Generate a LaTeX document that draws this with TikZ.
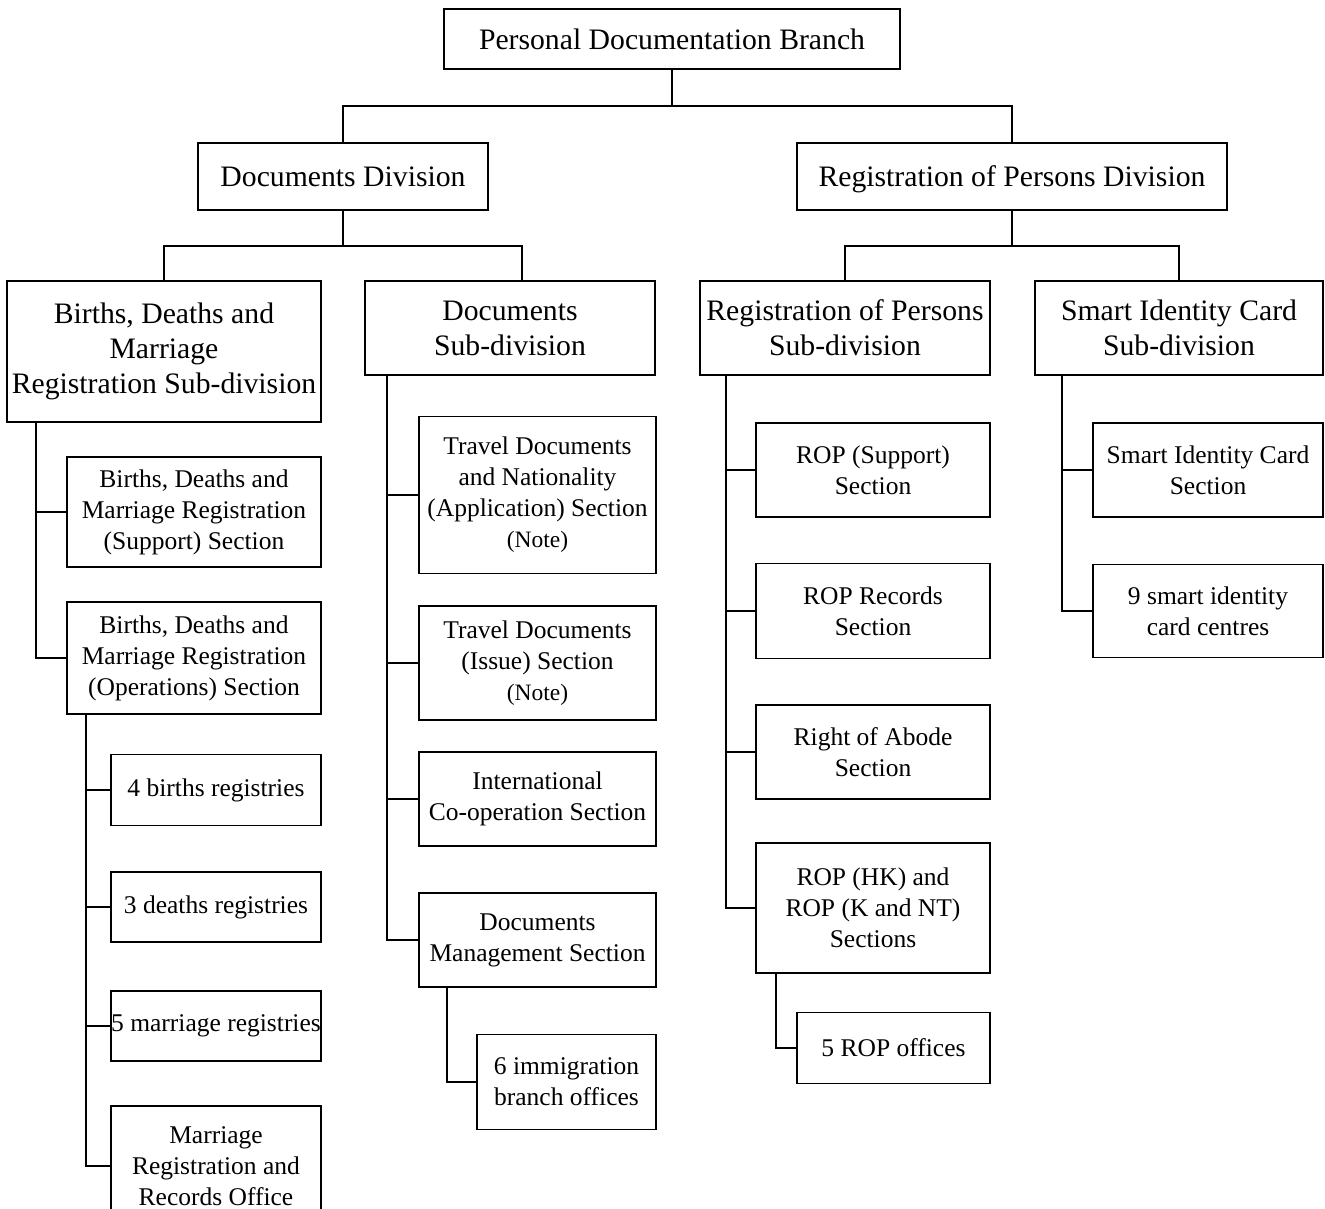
\documentclass[tikz,border=0pt]{standalone}
\usepackage{fontspec}
\setmainfont{Liberation Serif}
\usetikzlibrary{positioning,calc}

\begin{document}
\begin{tikzpicture}[
    x=1pt, y=-1pt,
    head/.style={rectangle, draw=black, line width=1.8pt, inner sep=0pt,
                align=center, font=\fontsize{29.7}{35}\selectfont},
    unit/.style={rectangle, draw=black, line width=1.8pt, inner sep=0pt,
                align=center, font=\fontsize{25.5}{31}\selectfont},
    link/.style={line width=1.9pt},
]
\useasboundingbox (0,0) rectangle (1325,1209);
\clip (0,0) rectangle (1325,1209);

% --- Branch and divisions ---
\node[head, minimum width=456pt, minimum height=60pt] (pdb) at (672,39) {Personal Documentation Branch};
\node[head, minimum width=290pt, minimum height=67pt] (dd) at (343,176.5) {Documents Division};
\node[head, minimum width=430pt, minimum height=67pt, text depth=0pt] (rpd) at (1012,176.5) {Registration of Persons Division};

% --- Sub-divisions ---
\node[head, minimum width=314pt, minimum height=141pt] (bdm) at (164,351.5) {Births, Deaths and\\Marriage\\Registration Sub-division};
\node[head, minimum width=290pt, minimum height=94pt] (dsd) at (510,328) {Documents\\Sub-division};
\node[head, minimum width=290pt, minimum height=94pt] (rsd) at (845,328) {Registration of Persons\\Sub-division};
\node[head, minimum width=288pt, minimum height=94pt] (ssd) at (1179,328) {Smart Identity Card\\Sub-division};

% --- Births, Deaths and Marriage sections ---
\node[unit, minimum width=254pt, minimum height=110pt] (bsup) at (194,512) {Births, Deaths and\\Marriage Registration\\(Support) Section};
\node[unit, minimum width=254pt, minimum height=112pt] (bops) at (194,658) {Births, Deaths and\\Marriage Registration\\(Operations) Section};
\node[unit, minimum width=210pt, minimum height=71pt] (bir) at (216,790) {4 births registries};
\node[unit, minimum width=210pt, minimum height=70pt] (dea) at (216,907) {3 deaths registries};
\node[unit, minimum width=210pt, minimum height=70pt] (mar) at (216,1026) {5 marriage registries};
\node[unit, minimum width=210pt, minimum height=120pt] (mro) at (216,1166) {Marriage\\Registration and\\Records Office};

% --- Documents sections ---
\node[unit, minimum width=237pt, minimum height=157pt] (tdn) at (537.5,495) {Travel Documents\\and Nationality\\(Application) Section\\{\fontsize{23.5}{28}\selectfont(Note)}};
\node[unit, minimum width=237pt, minimum height=114pt] (tdi) at (537.5,663) {Travel Documents\\(Issue) Section\\{\fontsize{23.5}{28}\selectfont(Note)}};
\node[unit, minimum width=237pt, minimum height=94pt] (ics) at (537.5,799) {International\\Co-operation Section};
\node[unit, minimum width=237pt, minimum height=94pt] (dms) at (537.5,940) {Documents\\Management Section};
\node[unit, minimum width=179pt, minimum height=95pt] (imm) at (566.5,1082) {6 immigration\\branch offices};

% --- Registration of Persons sections ---
\node[unit, minimum width=234pt, minimum height=94pt] (rsup) at (873,470) {ROP (Support)\\Section};
\node[unit, minimum width=234pt, minimum height=95pt] (rrec) at (873,611) {ROP Records\\Section};
\node[unit, minimum width=234pt, minimum height=94pt] (roa) at (873,752) {Right of Abode\\Section};
\node[unit, minimum width=234pt, minimum height=130pt] (rhk) at (873,908) {ROP (HK) and\\ROP (K and NT)\\Sections};
\node[unit, minimum width=193pt, minimum height=71pt] (rof) at (893.5,1048) {5 ROP offices};

% --- Smart Identity Card sections ---
\node[unit, minimum width=230pt, minimum height=94pt] (ssec) at (1208,470) {Smart Identity Card\\Section};
\node[unit, minimum width=230pt, minimum height=93pt] (scc) at (1208,611) {9 smart identity\\card centres};

% --- Upper connectors ---
\draw[link] (pdb.south) -- ++(0,36) -| (dd.north);
\draw[link] (pdb.south) -- ++(0,36) -| (rpd.north);
\draw[link] (dd.south) -- ++(0,35) -| (bdm.north);
\draw[link] (dd.south) -- ++(0,35) -| ([xshift=12pt]dsd.north);
\draw[link] (rpd.south) -- ++(0,35) -| (rsd.north);
\draw[link] (rpd.south) -- ++(0,35) -| (ssd.north);

% --- Side trunks ---
\draw[link] ([xshift=30pt]bdm.south west) |- (bsup.west);
\draw[link] ([xshift=30pt]bdm.south west) |- (bops.west);
\foreach \n in {bir,dea,mar,mro}
  \draw[link] ([xshift=20pt]bops.south west) |- (\n.west);
\foreach \n in {tdn,tdi,ics,dms}
  \draw[link] ([xshift=23pt]dsd.south west) |- (\n.west);
\draw[link] ([xshift=29pt]dms.south west) |- (imm.west);
\foreach \n in {rsup,rrec,roa,rhk}
  \draw[link] ([xshift=27pt]rsd.south west) |- (\n.west);
\draw[link] ([xshift=21pt]rhk.south west) |- (rof.west);
\foreach \n in {ssec,scc}
  \draw[link] ([xshift=28pt]ssd.south west) |- (\n.west);

\end{tikzpicture}
\end{document}
